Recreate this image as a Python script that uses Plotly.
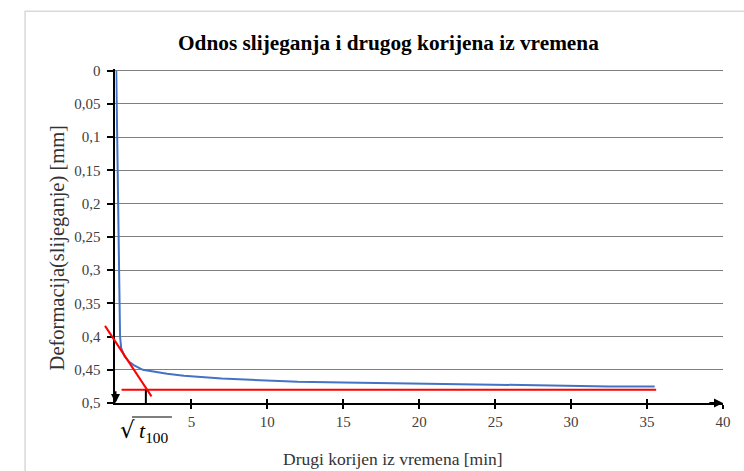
import plotly.graph_objects as go

# ---- data ----
sqrt_time = [0.05, 0.30, 0.38, 0.6, 0.9, 1.2, 1.8, 2.5, 3.4, 4.5, 5.6, 7.0, 8.9, 10.0,
             12.0, 15.0, 17.5, 20.0, 22.5, 25.0, 27.5, 30.0, 32.5, 35.5]
deformation = [0.0, 0.400, 0.418, 0.430, 0.438, 0.443, 0.450, 0.453, 0.456, 0.459, 0.461,
               0.463, 0.465, 0.466, 0.468, 0.469, 0.470, 0.471, 0.472, 0.473, 0.474,
               0.474, 0.475, 0.475]
tangent_x = [-0.69, 2.37]
tangent_y = [0.384, 0.490]
final_x = [0.4, 35.6]
final_y = [0.48, 0.48]
sqrt_t100 = 2.0

x_ticks = [5, 10, 15, 20, 25, 30, 35, 40]
x_ticktext = ["5", "10", "15", "20", "25", "30", "35", "40"]
y_ticks = [0, 0.05, 0.1, 0.15, 0.2, 0.25, 0.3, 0.35, 0.4, 0.45, 0.5]
y_ticktext = ["0", "0,05", "0,1", "0,15", "0,2", "0,25", "0,3", "0,35", "0,4", "0,45", "0,5"]

title = "Odnos slijeganja i drugog korijena iz vremena"
x_title = "Drugi korijen iz vremena [min]"
y_title = "Deformacija(slijeganje) [mm]"

XR = [0, 40]
YR = [0.5, -0.0025]

# geometry (pixels)
W, H = 744, 471
ML, MR, MT, MB = 100, 20.5, 69.3, 68
plot_w = W - ML - MR
plot_h = H - MT - MB
axis_px = 115.5
d0 = (axis_px - ML) / plot_w
main_w = plot_w * (1 - d0)
ppu = main_w / (XR[1] - XR[0])
XR3 = [XR[0] - (axis_px - ML) / ppu, XR[1]]


def px_x(p):
    return (p - ML) / plot_w


def px_y(p):
    return (H - MB - p) / plot_h


def px_data_x(p):
    return XR[0] + (p - axis_px) / ppu


SERIF = "Liberation Serif, Times New Roman, serif"

fig = go.Figure()

fig.add_trace(go.Scatter(x=sqrt_time, y=deformation, mode="lines",
                         line=dict(color="#4472C4", width=2), xaxis="x", yaxis="y",
                         hoverinfo="skip", showlegend=False))
fig.add_trace(go.Scatter(x=final_x, y=final_y, mode="lines",
                         line=dict(color="#FF0000", width=2), xaxis="x", yaxis="y",
                         showlegend=False))
fig.add_trace(go.Scatter(x=[sqrt_t100, sqrt_t100], y=[final_y[0], YR[0]], mode="lines",
                         line=dict(color="black", width=2), xaxis="x", yaxis="y",
                         showlegend=False))
# tangent line on a wider (hidden) subplot so it may extend left of the axis
fig.add_trace(go.Scatter(x=tangent_x, y=tangent_y, mode="lines",
                         line=dict(color="#FF0000", width=2), xaxis="x3", yaxis="y3",
                         showlegend=False))
# dummy trace to realize xaxis2 (crossing tick marks)
fig.add_trace(go.Scatter(x=[None], y=[None], xaxis="x2", yaxis="y", showlegend=False))

fig.update_layout(
    width=W, height=H,
    margin=dict(l=ML, r=MR, t=MT, b=MB),
    paper_bgcolor="white", plot_bgcolor="rgba(0,0,0,0)",
    font=dict(family=SERIF, size=15, color="#333333"),
    showlegend=False,
    xaxis=dict(domain=[d0, 1], range=XR, tickvals=x_ticks, ticktext=x_ticktext,
               showgrid=False, zeroline=False, showline=True, linecolor="black",
               linewidth=2, ticks="outside", ticklen=4, tickwidth=1.5, tickcolor="black",
               tickfont=dict(family=SERIF, size=15, color="#404040"), anchor="y"),
    xaxis2=dict(domain=[d0, 1], range=XR, tickvals=x_ticks, showticklabels=False,
                showgrid=False, zeroline=False, showline=False, ticks="inside",
                ticklen=4, tickwidth=1.5, tickcolor="black", overlaying="x", anchor="y"),
    yaxis=dict(range=YR, tickvals=y_ticks, ticktext=y_ticktext, showgrid=True,
               gridcolor="#7f7f7f", gridwidth=1, zeroline=False, showline=True,
               linecolor="black", linewidth=2, ticks="outside", ticklen=6,
               tickwidth=1.5, tickcolor="black", ticklabelstandoff=4,
               tickfont=dict(family=SERIF, size=15, color="#404040"), anchor="x"),
    xaxis3=dict(domain=[0, 1], range=XR3, visible=False, anchor="y3"),
    yaxis3=dict(domain=[0, 1], range=YR, visible=False, anchor="x3"),
)

# axis arrowheads
fig.add_annotation(x=XR[1], y=YR[0], ax=XR[1] - 1, ay=YR[0], xref="x", yref="y",
                   axref="x", ayref="y", text="", showarrow=True, arrowhead=2,
                   arrowsize=0.9, arrowwidth=2, arrowcolor="black")
fig.add_annotation(x=XR[0], y=YR[0], ax=XR[0], ay=YR[0] - 0.02, xref="x", yref="y",
                   axref="x", ayref="y", text="", showarrow=True, arrowhead=2,
                   arrowsize=0.9, arrowwidth=2, arrowcolor="black")

# titles
fig.add_annotation(text="<b>" + title + "</b>", xref="paper", yref="paper",
                   x=px_x(389), y=px_y(43), xanchor="center", yanchor="middle",
                   showarrow=False, font=dict(family=SERIF, size=21.3, color="black"))
fig.add_annotation(text=x_title, xref="paper", yref="paper",
                   x=px_x(393.7), y=px_y(459), xanchor="center", yanchor="middle",
                   showarrow=False, font=dict(family=SERIF, size=17.5, color="#333333"))
fig.add_annotation(text=y_title, xref="paper", yref="paper", textangle=-90,
                   x=px_x(57.5), y=px_y(248), xanchor="center", yanchor="middle",
                   showarrow=False, font=dict(family=SERIF, size=20.5, color="#333333"))

# sqrt(t100) label
fig.add_annotation(text="√", xref="x", yref="paper", x=px_data_x(128),
                   y=px_y(430), xanchor="center", yanchor="middle",
                   showarrow=False, font=dict(family="DejaVu Serif", size=23, color="black"))
fig.add_annotation(text="<i>t</i><sub>100</sub>", xref="x", yref="paper", x=px_data_x(154),
                   y=px_y(432), xanchor="center", yanchor="middle",
                   showarrow=False, font=dict(family=SERIF, size=22, color="black"))
fig.add_shape(type="line", xref="x", yref="paper", x0=px_data_x(132), x1=px_data_x(172),
              y0=px_y(417), y1=px_y(417), line=dict(color="black", width=1.2))

# chart frame
fig.add_shape(type="rect", xref="paper", yref="paper",
              x0=px_x(25), x1=px_x(760), y0=px_y(490), y1=px_y(11.5),
              line=dict(color="#d9d9d9", width=1.5), layer="below")

fig.write_html("out.html", post_script="document.body.style.margin='0';",
               config={"displayModeBar": False})
